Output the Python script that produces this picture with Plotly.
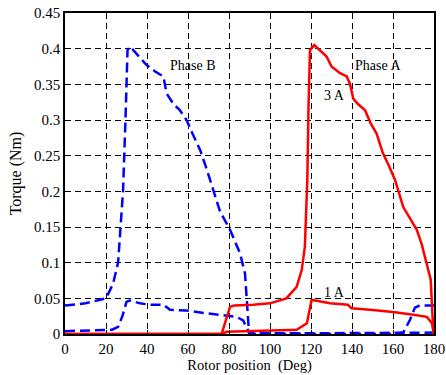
import plotly.graph_objects as go

# Phase B, 3 A (blue dashed)
b3_x = [0, 10, 20, 23.4, 25.9, 28.3, 29.5, 30.5, 31.7, 35, 39.8, 44, 48, 49.6, 53, 56, 59.3, 62, 65.9, 69, 72.4, 75.6, 80.5, 85.4, 87.8, 89.3, 89.8, 100, 120, 140, 160, 165, 168.3, 170.7, 173, 180]
b3_y = [0.040, 0.043, 0.050, 0.070, 0.100, 0.200, 0.300, 0.398, 0.403, 0.392, 0.377, 0.368, 0.361, 0.337, 0.322, 0.314, 0.300, 0.282, 0.258, 0.232, 0.200, 0.172, 0.146, 0.113, 0.085, 0.030, 0.0, 0.0, 0.0, 0.0, 0.0, 0.002, 0.020, 0.037, 0.040, 0.040]

# Phase B, 1 A (blue dashed)
b1_x = [0, 10, 20, 23, 25.9, 28, 30, 31.5, 33, 36.6, 41.5, 48, 51.2, 59, 69, 75.6, 79.7, 83.7, 86.9, 88.6, 90, 120, 150, 180]
b1_y = [0.004, 0.005, 0.005, 0.006, 0.010, 0.025, 0.045, 0.047, 0.046, 0.043, 0.041, 0.041, 0.034, 0.033, 0.029, 0.027, 0.026, 0.024, 0.019, 0.010, 0.001, 0.001, 0.001, 0.002]

# Phase A, 3 A (red solid)
a3_x = [0, 40, 76.4, 78, 80.5, 82.4, 91.7, 100, 108, 113, 115.5, 117, 118.2, 118.8, 119.5, 121.6, 124, 127.6, 130, 134, 137.4, 139, 140.6, 143, 146.3, 149, 152, 155, 158, 161, 165, 168, 171.6, 174, 177, 178.4, 179.7]
a3_y = [0.0, 0.0, 0.0, 0.015, 0.038, 0.040, 0.041, 0.043, 0.050, 0.066, 0.090, 0.122, 0.216, 0.320, 0.398, 0.405, 0.398, 0.389, 0.375, 0.366, 0.361, 0.351, 0.330, 0.322, 0.314, 0.296, 0.281, 0.254, 0.236, 0.216, 0.178, 0.163, 0.146, 0.126, 0.094, 0.076, 0.0]

# Phase A, 1 A (red solid)
a1_x = [0, 40, 76.5, 78.9, 90, 100, 113, 118, 120.3, 122, 129.3, 138, 139.8, 148.8, 160, 170, 176.5, 179, 180]
a1_y = [0.0, 0.0, 0.0, 0.003, 0.004, 0.005, 0.006, 0.015, 0.048, 0.047, 0.043, 0.041, 0.036, 0.034, 0.031, 0.027, 0.024, 0.015, 0.0]

x_ticks = [0, 20, 40, 60, 80, 100, 120, 140, 160, 180]
y_ticks = [0, 0.05, 0.1, 0.15, 0.2, 0.25, 0.3, 0.35, 0.4, 0.45]
y_tick_text = ["0", "0.05", "0.1", "0.15", "0.2", "0.25", "0.3", "0.35", "0.4", "0.45"]

BLUE = "#0000ff"
RED = "#ff0000"
dash_b = "10px,5px"
FAMILY = "Liberation Serif, Times New Roman, serif"

fig = go.Figure()
fig.add_trace(go.Scatter(x=b3_x, y=b3_y, mode="lines", line=dict(color=BLUE, width=2.5, dash=dash_b), showlegend=False))
fig.add_trace(go.Scatter(x=b1_x, y=b1_y, mode="lines", line=dict(color=BLUE, width=2.5, dash=dash_b), showlegend=False))
fig.add_trace(go.Scatter(x=a1_x, y=a1_y, mode="lines", line=dict(color=RED, width=2.5), showlegend=False))
fig.add_trace(go.Scatter(x=a3_x, y=a3_y, mode="lines", line=dict(color=RED, width=2.5), showlegend=False))

for txt, x, y in [("Phase B", 62.4, 0.377), ("Phase A", 152.7, 0.377), ("3 A", 131.7, 0.335), ("1 A", 131.7, 0.0575)]:
    fig.add_annotation(x=x, y=y, text=txt, showarrow=False, font=dict(family=FAMILY, size=14, color="#000"))

fig.update_layout(
    width=446, height=375,
    margin=dict(l=65, r=12, t=13, b=41),
    paper_bgcolor="white", plot_bgcolor="white",
    font=dict(family=FAMILY, size=15, color="#000"),
    xaxis=dict(range=[0, 180], tickvals=x_ticks, showgrid=True, gridcolor="#000", griddash="6px,4px", gridwidth=1,
               showline=True, linecolor="#000", linewidth=1.5, mirror=True, ticks="inside", ticklen=4, tickcolor="#000",
               zeroline=False, automargin=False,
               title=dict(text="Rotor position  (Deg)", standoff=2, font=dict(size=14.5)), tickfont=dict(size=15)),
    yaxis=dict(range=[0, 0.45], tickvals=y_ticks, ticktext=y_tick_text, showgrid=True, gridcolor="#000", griddash="6px,4px", gridwidth=1,
               showline=True, linecolor="#000", linewidth=1.5, mirror=True, ticks="inside", ticklen=4, tickcolor="#000",
               zeroline=False, automargin=False,
               title=dict(text="Torque (Nm)", standoff=8, font=dict(size=16)), tickfont=dict(size=15)),
)

# remove the page's default body margin so the 446x375 figure fills the window exactly
fig.write_html("out.html", config={"displayModeBar": False}, post_script="document.body.style.margin='0';")
